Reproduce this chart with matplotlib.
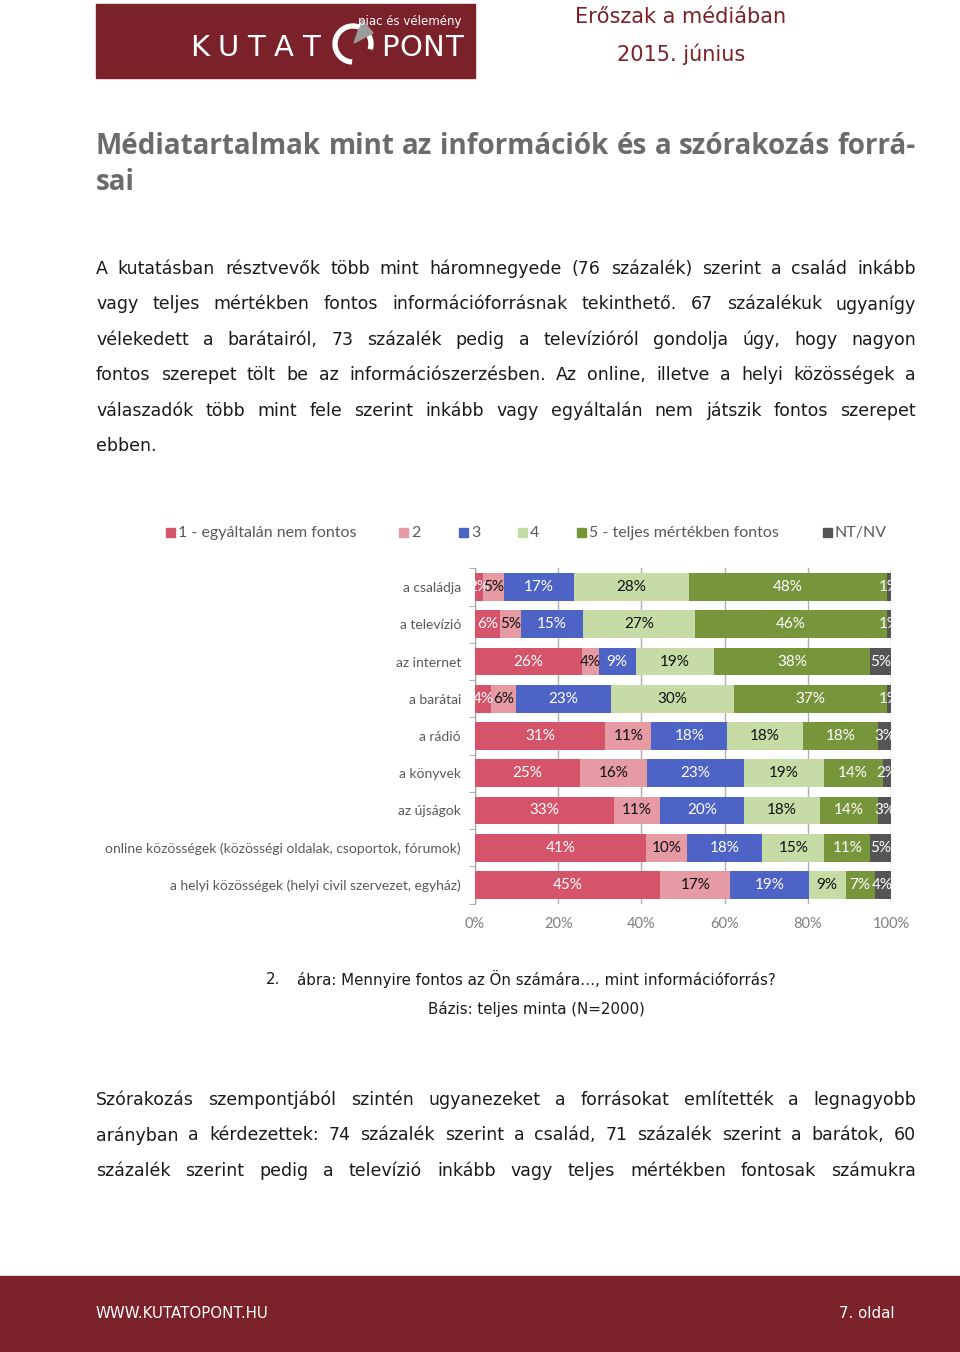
import matplotlib
matplotlib.use("Agg")
import matplotlib.pyplot as plt
import numpy as np
from matplotlib.patches import Rectangle, Polygon, Wedge

# ---- chart data (percent, as labelled) ----
categories = [
    "a családja", "a televízió", "az internet", "a barátai", "a rádió",
    "a könyvek", "az újságok",
    "online közösségek (közösségi oldalak, csoportok, fórumok)",
    "a helyi közösségek (helyi civil szervezet, egyház)",
]
series_names = ["1 - egyáltalán nem fontos", "2", "3", "4",
                "5 - teljes mértékben fontos", "NT/NV"]
s1 = [2, 6, 26, 4, 31, 25, 33, 41, 45]
s2 = [5, 5, 4, 6, 11, 16, 11, 10, 17]
s3 = [17, 15, 9, 23, 18, 23, 20, 18, 19]
s4 = [28, 27, 19, 30, 18, 19, 18, 15, 9]
s5 = [48, 46, 38, 37, 18, 14, 14, 11, 7]
s6 = [1, 1, 5, 1, 3, 2, 3, 5, 4]
xticks = [0, 20, 40, 60, 80, 100]

colors = ["#D5546A", "#E59AA4", "#4D63C5", "#C6DBA6", "#77953B", "#555555"]
label_colors = ["white", "#111111", "white", "#111111", "white", "white"]

RED = "#7B2129"
W, H = 960, 1352

para1 = [
    "A kutatásban résztvevők több mint háromnegyede (76 százalék) szerint a család inkább",
    "vagy teljes mértékben fontos információforrásnak tekinthető. 67 százalékuk ugyanígy",
    "vélekedett a barátairól, 73 százalék pedig a televízióról gondolja úgy, hogy nagyon",
    "fontos szerepet tölt be az információszerzésben. Az online, illetve a helyi közösségek a",
    "válaszadók több mint fele szerint inkább vagy egyáltalán nem játszik fontos szerepet",
    "ebben.",
]
para2 = [
    "Szórakozás szempontjából szintén ugyanezeket a forrásokat említették a legnagyobb",
    "arányban a kérdezettek: 74 százalék szerint a család, 71 százalék szerint a barátok, 60",
    "százalék szerint pedig a televízió inkább vagy teljes mértékben fontosak számukra",
]

fig = plt.figure(figsize=(W / 100, H / 100), dpi=100)
page = fig.add_axes([0, 0, 1, 1])
page.set_xlim(0, W); page.set_ylim(H, 0); page.axis("off")
renderer = fig.canvas.get_renderer()


def justify(line, y, x0=96, x1=916, last=False, min_gap=0, **kw):
    words = line.split(" ")
    if last or len(words) == 1:
        page.text(x0, y, line, va="center", ha="left", **kw)
        return
    ts = [page.text(0, y, w, va="center", ha="left", **kw) for w in words]
    widths = [t.get_window_extent(renderer).width for t in ts]
    gap = max(min_gap, (x1 - x0 - sum(widths)) / (len(words) - 1))
    x = x0
    for t, wd in zip(ts, widths):
        t.set_x(x)
        x += wd + gap


# ---- header ----
page.add_patch(Rectangle((96, 4), 379, 74, color=RED))
lkw = dict(color="white", fontsize=21, family="DejaVu Sans")
justify("K U T A T", 48, x0=190, x1=320, min_gap=1, **lkw)
justify("P O N T", 48, x0=381, x1=455, min_gap=0.5, **lkw)
page.add_patch(Wedge((353, 44), 20, 95, 375, width=4, color="white"))
page.add_patch(Polygon([[354, 43], [362, 20], [373, 33]], color="#9A9A9A"))
page.text(358, 21, "piac és vélemény", color="white", fontsize=8.5,
          va="center", ha="left")
page.text(681, 17, "Erőszak a médiában", color=RED, fontsize=15,
          va="center", ha="center")
page.text(681, 54, "2015. június", color=RED, fontsize=15,
          va="center", ha="center")

# ---- title ----
tkw = dict(fontsize=20, fontweight="bold", family="Open Sans", color="#6B6B6B")
justify("Médiatartalmak mint az információk és a szórakozás forrá-", 146, **tkw)
justify("sai", 183, last=True, **tkw)

bkw = dict(fontsize=12.5, family="DejaVu Sans", color="#1A1A1A")
for i, ln in enumerate(para1):
    justify(ln, 269 + i * 35.4, last=(i == len(para1) - 1), **bkw)

# ---- legend ----
leg_x = [166, 399, 459, 518, 577, 823]
for name, c, x in zip(series_names, colors, leg_x):
    page.add_patch(Rectangle((x, 528), 9, 9, color=c))
    page.text(x + 12, 533, name, fontsize=11.5, family="Lato", color="#595959",
              va="center", ha="left")

# ---- chart ----
ax = fig.add_axes([475 / W, 1 - 903.6 / H, 416 / W, 335.2 / H])
data = np.array([s1, s2, s3, s4, s5, s6], dtype=float)
shares = data / data.sum(axis=0) * 100
ypos = np.arange(len(categories))
left = np.zeros(len(categories))
for k in range(len(series_names)):
    ax.barh(ypos, shares[k], left=left, height=0.75, color=colors[k],
            zorder=3, linewidth=0)
    for j in range(len(categories)):
        t = ax.text(left[j] + shares[k][j] / 2, ypos[j], f"{int(data[k][j])}%",
                    ha="center", va="center", color=label_colors[k],
                    fontsize=11, family="Lato", zorder=4)
        t.set_clip_on(True)
    left += shares[k]

ax.set_ylim(len(categories) - 0.5, -0.5)
ax.set_xlim(0, 100)
ax.set_xticks(xticks)
ax.set_xticklabels([f"{v}%" for v in xticks], fontsize=10.5, family="Lato",
                   color="#7F7F7F")
ax.set_yticks(ypos)
ax.set_yticklabels(categories, fontsize=10, family="Lato", color="#595959")
ax.set_yticks(np.arange(len(categories) + 1) - 0.5, minor=True)
ax.tick_params(axis="y", which="major", length=0, pad=10)
ax.tick_params(axis="y", which="minor", length=4, color="#A0A0A0")
ax.tick_params(axis="x", length=0, pad=10)
ax.grid(axis="x", color="#B0B0B0", linewidth=1, zorder=0)
for side in ["top", "right", "bottom"]:
    ax.spines[side].set_visible(False)
ax.spines["left"].set_color("#A0A0A0")

# ---- caption ----
ckw = dict(fontsize=10.8, family="DejaVu Sans", color="#1A1A1A", va="center")
page.text(266, 979, "2.", ha="left", **ckw)
page.text(297, 979, "ábra: Mennyire fontos az Ön számára…, mint információforrás?",
          ha="left", **ckw)
page.text(536, 1009, "Bázis: teljes minta (N=2000)", ha="center", **ckw)

for i, ln in enumerate(para2):
    justify(ln, 1100 + i * 35.4, **bkw)

# ---- footer ----
page.add_patch(Rectangle((0, 1276), W, 76, color=RED))
page.text(96, 1314, "WWW.KUTATOPONT.HU", color="white", fontsize=10.8,
          va="center", ha="left")
page.text(895, 1314, "7. oldal", color="white", fontsize=10.8,
          va="center", ha="right")

fig.savefig("out.png", dpi=100)
